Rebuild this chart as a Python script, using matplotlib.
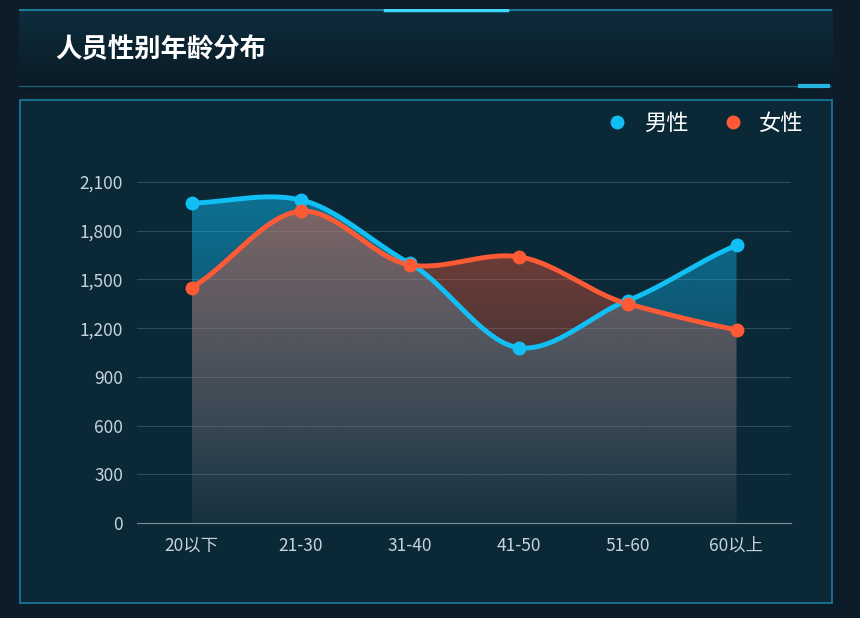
import numpy as np
import matplotlib.pyplot as plt
import matplotlib.colors as mcolors
from matplotlib.patches import Rectangle, Polygon

plt.rcParams['font.family'] = ['Noto Sans CJK SC', 'DejaVu Sans']

categories = ['20以下', '21-30', '31-40', '41-50', '51-60', '60以上']
male = [1970, 1990, 1600, 1080, 1370, 1710]
female = [1450, 1920, 1590, 1640, 1350, 1190]
title = '人员性别年龄分布'

male_color = '#12bff5'
female_color = '#ff5a36'
bg = '#0c1c28'


def smooth(y, n=40):
    # cubic hermite with catmull-rom tangents, for drawing only
    y = np.asarray(y, float)
    x = np.arange(len(y))
    m = np.gradient(y) * 0.8
    xs, ys = [], []
    for i in range(len(y) - 1):
        t = np.linspace(0, 1, n, endpoint=(i == len(y) - 2))
        h00 = 2*t**3 - 3*t**2 + 1
        h10 = t**3 - 2*t**2 + t
        h01 = -2*t**3 + 3*t**2
        h11 = t**3 - t**2
        xs.append(x[i] + t)
        ys.append(h00*y[i] + h10*m[i] + h01*y[i+1] + h11*m[i+1])
    return np.concatenate(xs), np.concatenate(ys)


fig = plt.figure(figsize=(8.6, 6.18), dpi=100, facecolor=bg)

# background / panel border
back = fig.add_axes([0, 0, 1, 1], zorder=-5)
back.set_xlim(0, 860); back.set_ylim(618, 0); back.axis('off')
back.add_patch(Rectangle((20, 100), 812, 503, facecolor='#0b2837', edgecolor='#1a7da3', lw=1.2))

# header banner
hdr = fig.add_axes([0.022, 0.855, 0.946, 0.13])
hdr.set_xlim(0, 1); hdr.set_ylim(0, 1); hdr.axis('off')
grad = np.linspace(0, 1, 256).reshape(-1, 1)
hdr.imshow(grad, extent=[0, 1, 0, 1], aspect='auto',
           cmap=mcolors.LinearSegmentedColormap.from_list('h', ['#0a1a25', '#0e2d3d']), origin='lower')
hdr.plot([0, 1], [0.99, 0.99], color='#1d7a9a', lw=1.5)
hdr.plot([0.45, 0.6], [0.99, 0.99], color='#3fd8ff', lw=2.5)
hdr.plot([0, 1], [0.04, 0.04], color='#1b5c74', lw=1)
hdr.plot([0.96, 0.995], [0.04, 0.04], color='#27b4e0', lw=3)
hdr.text(0.045, 0.5, title, color='white', fontsize=19, fontweight='bold', va='center')

ax = fig.add_axes([137/860, 95/618, 654/860, 341/618])
ax.set_facecolor('none')
ax.set_yticks(np.arange(0, 2101, 300))
ax.set_yticklabels([f'{v:,}' for v in range(0, 2101, 300)])
ax.set_xticks(range(len(categories)))
ax.set_xticklabels(categories)
ax.tick_params(colors='#c8d4dc', labelsize=12.5, length=0, pad=10)
ax.grid(axis='y', color='#2d4b5a', lw=0.8)
ax.set_axisbelow(True)
for s in ['top', 'right', 'left']:
    ax.spines[s].set_visible(False)
ax.spines['bottom'].set_color('#7a8f9a')

for vals, col, lab in [(male, male_color, '男性'), (female, female_color, '女性')]:
    xs, ys = smooth(vals)
    rgb = mcolors.to_rgb(col)
    cmap = mcolors.LinearSegmentedColormap.from_list('g', [(*rgb, 0.05), (*rgb, 0.5)])
    im = ax.imshow(np.linspace(0, 1, 256).reshape(-1, 1), extent=[xs[0], xs[-1], 0, 2100],
                   origin='lower', aspect='auto', cmap=cmap, zorder=1)
    poly = Polygon(np.column_stack([np.r_[xs, xs[-1], xs[0]], np.r_[ys, 0, 0]]),
                   closed=True, facecolor='none', edgecolor='none')
    ax.add_patch(poly)
    im.set_clip_path(poly)
    ax.plot(xs, ys, color=col, lw=3.5, zorder=3, solid_capstyle='round')
    ax.plot(range(len(vals)), vals, 'o', color=col, ms=9, zorder=4, label=lab)

ax.set_xlim(-0.5, 5.5)
ax.set_ylim(0, 2100)

ax.legend(loc='lower right', bbox_to_anchor=(1.05, 1.08), ncol=2, frameon=False,
          fontsize=16, labelcolor='white', handletextpad=0.2, columnspacing=1.0)
fig.savefig('out.png', dpi=100, facecolor=bg)
